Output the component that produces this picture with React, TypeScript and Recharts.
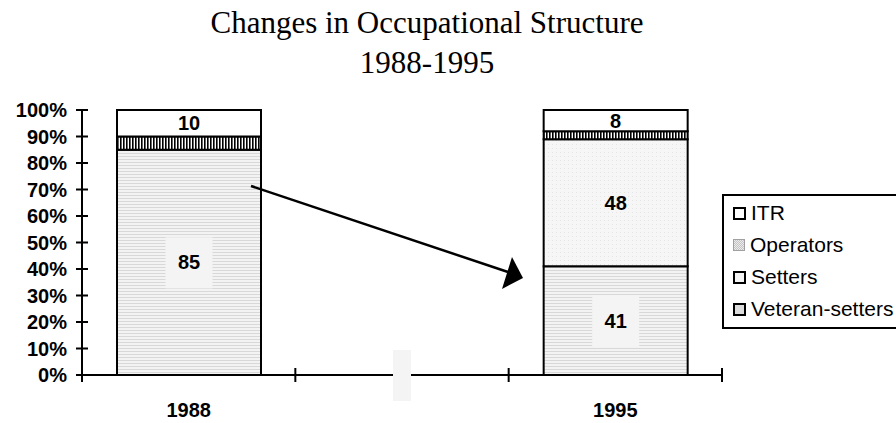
import React from 'react';
import { BarChart, Bar, XAxis, YAxis, Legend, LabelList } from 'recharts';

const years = ['1988', ' ', '1995'];
const veteranSetters = [85, 0, 41];
const setters = [0, null, 48];
const operators = [5, null, 3];
const itr = [10, null, 8];
const yTicks = [0, 10, 20, 30, 40, 50, 60, 70, 80, 90, 100];
const titleLines = ['Changes in Occupational Structure', '1988-1995'];
const legendNames = ['ITR', 'Operators', 'Setters', 'Veteran-setters'];

const data = years.map((y, i) => ({
  year: y,
  vet: veteranSetters[i],
  set: setters[i],
  op: operators[i],
  itr: itr[i],
}));

const W = 896;
const H = 423;
const M = { top: 110, right: 174, bottom: 0, left: 0 };
const YW = 82;
const XH = 48;
const PLOT_W = W - M.left - M.right - YW;
const HALF_BAND = PLOT_W / years.length / 2;
const SANS = '"Liberation Sans", Arial, sans-serif';
const SERIF = '"Liberation Serif", "Times New Roman", serif';
const BOX_FILL = '#f4f4f4';

const YTick = (props: any) => {
  const { x, y, payload } = props;
  return (
    <g>
      <line x1={x - 6} x2={x + 6} y1={y} y2={y} stroke="#000" strokeWidth={2} />
      <text x={x - 15} y={y + 7} textAnchor="end" fontFamily={SANS} fontWeight="bold" fontSize={20} fill="#000">
        {payload.value + '%'}
      </text>
    </g>
  );
};

const XTick = (props: any) => {
  const { x, y, payload, index } = props;
  const left = x - HALF_BAND;
  const right = x + HALF_BAND;
  const label = String(payload.value).trim();
  const v = veteranSetters[index];
  return (
    <g>
      <line x1={left} x2={left} y1={y - 7} y2={y + 7} stroke="#000" strokeWidth={2} />
      {index === years.length - 1 && (
        <line x1={right} x2={right} y1={y - 7} y2={y + 7} stroke="#000" strokeWidth={2} />
      )}
      {v === 0 && <rect x={x - 9} y={y - 25} width={18} height={51} fill={BOX_FILL} />}
      <text x={x} y={y + 42} textAnchor="middle" fontFamily={SANS} fontWeight="bold" fontSize={20} fill="#000">
        {label}
      </text>
    </g>
  );
};

const BoxLabel = (props: any) => {
  const { x, y, width, height, value } = props;
  if (!value) return null;
  const cx = Number(x) + Number(width) / 2;
  const cy = Number(y) + Number(height) / 2;
  const t = String(value);
  return (
    <g>
      <rect x={cx - 23.5} y={cy - 25} width={47} height={51} fill={BOX_FILL} />
      <text x={cx} y={cy + 7} textAnchor="middle" fontFamily={SANS} fontWeight="bold" fontSize={20} fill="#000">
        {t}
      </text>
    </g>
  );
};

const PlainLabel = (props: any) => {
  const { x, y, width, height, value } = props;
  if (!value) return null;
  const cx = Number(x) + Number(width) / 2;
  const cy = Number(y) + Number(height) / 2;
  return (
    <text x={cx} y={cy + 7} textAnchor="middle" fontFamily={SANS} fontWeight="bold" fontSize={20} fill="#000">
      {String(value)}
    </text>
  );
};

const iconStyles: Record<string, React.CSSProperties> = {
  ITR: { background: '#fff', border: '2px solid #000' },
  Operators: {
    background: 'repeating-conic-gradient(#c4c4c4 0 25%, #ececec 0 50%) 0 0 / 2px 2px',
    border: '1px solid #a0a0a0',
    width: 12,
    height: 12,
  },
  Setters: { background: '#f4f4f4', border: '2px solid #000' },
  'Veteran-setters': { background: '#dcdcdc', border: '2px solid #000' },
};

const LegendBox = () => (
  <div
    style={{
      boxSizing: 'border-box',
      width: 200,
      height: 135,
      border: '2px solid #000',
      paddingTop: 1,
      background: '#fff',
      fontFamily: SANS,
      fontSize: 21,
      color: '#000',
    }}
  >
    {legendNames.map((n) => (
      <div key={n} style={{ height: 32, display: 'flex', alignItems: 'center', paddingLeft: 9 }}>
        <span
          style={{
            display: 'inline-block',
            boxSizing: 'border-box',
            width: 13,
            height: 13,
            marginRight: 5,
            flex: 'none',
            ...iconStyles[n],
          }}
        />
        <span style={{ whiteSpace: 'nowrap' }}>{n}</span>
      </div>
    ))}
  </div>
);

export default function App() {
  return (
    <div style={{ position: 'absolute', left: 0, top: 0, width: W, height: H, overflow: 'hidden', background: '#fff' }}>
      <BarChart width={W} height={H} data={data} margin={M} barSize={144}>
        <defs>
          <pattern id="hstripe" width="6" height="3" patternUnits="userSpaceOnUse">
            <rect width="6" height="3" fill="#f3f3f3" />
            <rect width="6" height="1" fill="#d8d8d8" />
          </pattern>
          <pattern id="dots" width="4" height="4" patternUnits="userSpaceOnUse">
            <rect width="4" height="4" fill="#f6f6f6" />
            <rect width="1" height="1" fill="#e4e4e4" />
          </pattern>
          <pattern id="vhatch" width="3" height="6" patternUnits="userSpaceOnUse">
            <rect width="3" height="6" fill="#fff" />
            <rect width="1.6" height="6" fill="#000" />
          </pattern>
        </defs>
        <XAxis
          dataKey="year"
          axisLine={{ stroke: '#000', strokeWidth: 2 }}
          tickLine={false}
          tickSize={0}
          tickMargin={0}
          height={XH}
          tick={<XTick />}
          interval={0}
        />
        <YAxis
          domain={[0, 100]}
          ticks={yTicks}
          width={YW}
          axisLine={{ stroke: '#000', strokeWidth: 2 }}
          tickLine={false}
          tickSize={0}
          tickMargin={0}
          tick={<YTick />}
          interval={0}
        />
        <Legend
          layout="horizontal"
          verticalAlign="middle"
          align="center"
          wrapperStyle={{ left: 722, top: 194, width: 200, height: 135 }}
          content={() => <LegendBox />}
        />
        <Bar dataKey="vet" name="Veteran-setters" stackId="a" fill="url(#hstripe)" stroke="#000" strokeWidth={2} isAnimationActive={false}>
          <LabelList dataKey="vet" content={<BoxLabel />} />
        </Bar>
        <Bar dataKey="set" name="Setters" stackId="a" fill="url(#dots)" stroke="#000" strokeWidth={2} isAnimationActive={false}>
          <LabelList dataKey="set" content={<PlainLabel />} />
        </Bar>
        <Bar dataKey="op" name="Operators" stackId="a" fill="url(#vhatch)" stroke="#000" strokeWidth={2} isAnimationActive={false} />
        <Bar dataKey="itr" name="ITR" stackId="a" fill="#fff" stroke="#000" strokeWidth={2} isAnimationActive={false}>
          <LabelList dataKey="itr" content={<PlainLabel />} />
        </Bar>
      </BarChart>
      <svg width={W} height={H} style={{ position: 'absolute', left: 0, top: 0, pointerEvents: 'none' }}>
        <text x={427} y={33} textAnchor="middle" fontFamily={SERIF} fontSize={31} fill="#000">
          {titleLines[0]}
        </text>
        <text x={427} y={73} textAnchor="middle" fontFamily={SERIF} fontSize={31} fill="#000">
          {titleLines[1]}
        </text>
        <line x1={251} y1={186} x2={508} y2={272} stroke="#000" strokeWidth={2.5} />
        <polygon points="512,257 523,278 502,289" fill="#000" />
      </svg>
    </div>
  );
}
